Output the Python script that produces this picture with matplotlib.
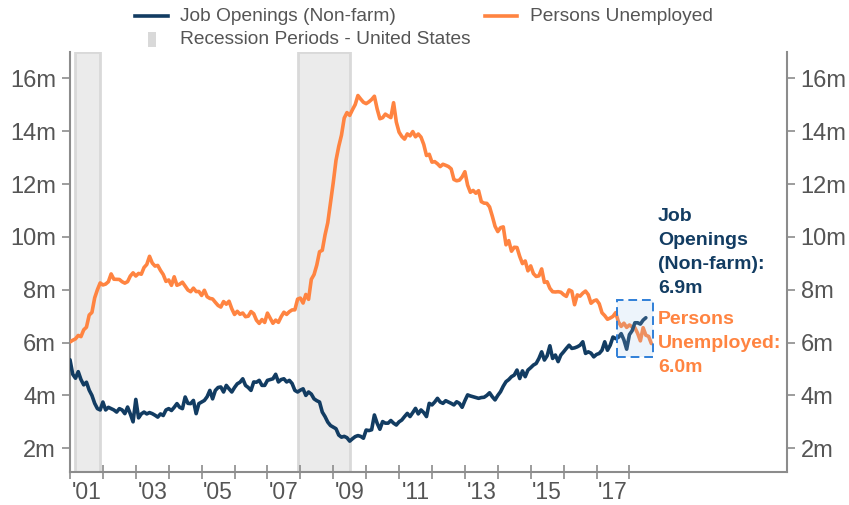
import numpy as np
import matplotlib
matplotlib.use("Agg")
import matplotlib.pyplot as plt
from matplotlib.lines import Line2D
from matplotlib.patches import Rectangle

# ---------------- data (millions, monthly, starting Jan 2001) ----------------
START_YEAR = 2001

job_openings = [
    5.35, 4.8, 4.65, 4.9, 4.6, 4.4, 4.5, 4.2, 4.0, 3.7, 3.5, 3.45,        # 2001
    3.75, 3.45, 3.55, 3.5, 3.45, 3.37, 3.5, 3.45, 3.31, 3.56, 3.3, 3.0,    # 2002
    3.85, 3.15, 3.3, 3.37, 3.3, 3.35, 3.31, 3.25, 3.18, 3.3, 3.24, 3.45,   # 2003
    3.5, 3.43, 3.55, 3.69, 3.55, 3.5, 3.94, 3.7, 3.69, 3.81, 3.31, 3.69,   # 2004
    3.75, 3.81, 3.95, 4.19, 3.87, 4.19, 4.3, 4.32, 4.13, 4.38, 4.25, 4.13, # 2005
    4.3, 4.44, 4.5, 4.63, 4.38, 4.3, 4.19, 4.51, 4.5, 4.57, 4.38, 4.38,    # 2006
    4.57, 4.6, 4.63, 4.8, 4.51, 4.6, 4.63, 4.51, 4.57, 4.45, 4.19, 4.13,   # 2007
    4.2, 4.25, 4.0, 4.13, 4.05, 3.87, 3.8, 3.75, 3.37, 3.2, 2.99, 2.86,    # 2008
    2.8, 2.74, 2.5, 2.42, 2.45, 2.4, 2.27, 2.36, 2.44, 2.48, 2.45, 2.38,   # 2009
    2.69, 2.67, 2.7, 3.26, 2.95, 2.72, 3.01, 2.95, 2.95, 3.05, 2.95, 2.88, # 2010
    3.0, 3.07, 3.2, 3.32, 3.2, 3.35, 3.51, 3.3, 3.45, 3.35, 3.2, 3.7,      # 2011
    3.64, 3.75, 3.89, 3.75, 3.7, 3.8, 3.75, 3.7, 3.64, 3.76, 3.7, 3.55,    # 2012
    3.8, 4.02, 3.98, 3.95, 3.92, 3.89, 3.92, 3.93, 4.0, 4.1, 3.95, 3.83,   # 2013
    4.0, 4.14, 4.35, 4.52, 4.6, 4.71, 4.77, 4.96, 4.64, 4.93, 4.71, 4.96,  # 2014
    5.05, 5.15, 5.21, 5.4, 5.65, 5.34, 5.5, 5.88, 5.4, 5.53, 5.28, 5.53,   # 2015
    5.65, 5.78, 5.9, 5.78, 5.8, 5.84, 5.9, 6.03, 5.59, 5.65, 5.6, 5.46,    # 2016
    5.55, 5.59, 5.71, 6.03, 5.71, 5.9, 6.21, 6.15, 6.2, 6.34, 6.1, 5.75,   # 2017
    6.3, 6.45, 6.75, 6.75, 6.7, 6.85, 6.94,                                # 2018
]

persons_unemployed = [
    6.023, 6.089, 6.141, 6.271, 6.226, 6.484, 6.583, 7.042, 7.142, 7.694, 8.003, 8.258,        # 2001
    8.182, 8.215, 8.304, 8.599, 8.399, 8.393, 8.390, 8.304, 8.251, 8.307, 8.520, 8.640,        # 2002
    8.520, 8.618, 8.588, 8.842, 8.957, 9.266, 9.011, 8.896, 8.921, 8.732, 8.576, 8.317,        # 2003
    8.370, 8.167, 8.491, 8.170, 8.212, 8.286, 8.136, 7.990, 7.927, 8.061, 7.932, 7.934,        # 2004
    7.784, 7.980, 7.737, 7.672, 7.651, 7.524, 7.406, 7.345, 7.553, 7.453, 7.566, 7.279,        # 2005
    7.064, 7.184, 7.072, 7.120, 6.980, 7.001, 7.175, 7.091, 6.847, 6.727, 6.872, 6.762,        # 2006
    7.116, 6.927, 6.731, 6.850, 6.766, 6.979, 7.149, 7.067, 7.170, 7.237, 7.240, 7.645,        # 2007
    7.685, 7.497, 7.822, 7.637, 8.395, 8.575, 8.937, 9.438, 9.494, 10.074, 10.538, 11.286,     # 2008
    12.058, 12.898, 13.426, 13.853, 14.499, 14.707, 14.601, 14.814, 15.009, 15.352, 15.219, 15.098,  # 2009
    15.046, 15.113, 15.202, 15.325, 14.849, 14.474, 14.512, 14.648, 14.579, 14.516, 15.081, 14.348,  # 2010
    13.966, 13.804, 13.702, 13.900, 13.826, 13.988, 13.790, 13.895, 13.777, 13.500, 13.082, 13.128,  # 2011
    12.830, 12.850, 12.770, 12.663, 12.750, 12.711, 12.665, 12.576, 12.175, 12.125, 12.148, 12.272,  # 2012
    12.468, 11.960, 11.689, 11.760, 11.654, 11.751, 11.335, 11.279, 11.270, 11.136, 10.787, 10.404,  # 2013
    10.202, 10.349, 10.380, 9.702, 9.859, 9.460, 9.608, 9.599, 9.262, 8.990, 9.090, 8.717,     # 2014
    8.903, 8.610, 8.504, 8.526, 8.789, 8.280, 8.304, 8.053, 7.925, 7.916, 7.927, 7.907,        # 2015
    7.815, 7.749, 7.994, 7.940, 7.433, 7.805, 7.758, 7.871, 7.950, 7.813, 7.489, 7.578,        # 2016
    7.615, 7.468, 7.128, 7.021, 6.882, 6.930, 6.992, 7.134, 6.785, 6.613, 6.734, 6.575,        # 2017
    6.667, 6.592, 6.563, 6.350, 6.065, 6.564, 6.280, 6.234, 5.964,                             # 2018
]

# recessions: (first month, last month) as (year, month)
recessions = [((2001, 3), (2001, 11)), ((2007, 12), (2009, 6))]

y_ticks = [2, 4, 6, 8, 10, 12, 14, 16]
y_tick_labels = ["2m", "4m", "6m", "8m", "10m", "12m", "14m", "16m"]
x_major_years = list(range(2001, 2019))
x_label_years = list(range(2001, 2018, 2))
x_tick_labels = ["'01", "'03", "'05", "'07", "'09", "'11", "'13", "'15", "'17"]

legend_labels = ["Job Openings (Non-farm)", "Persons Unemployed",
                 "Recession Periods - United States"]
jo_note = "Job\nOpenings\n(Non-farm):\n6.9m"
pu_note = "Persons\nUnemployed:\n6.0m"

# ---------------- style ----------------
JO_COLOR = "#123c62"
PU_COLOR = "#ff8441"
AXIS_COLOR = "#8c8c8c"
TEXT_COLOR = "#555555"
REC_FACE = "#ebebeb"
REC_EDGE = "#d9d9d9"

plt.rcParams["font.family"] = ["Liberation Sans", "DejaVu Sans"]

W, H = 849, 505
fig = plt.figure(figsize=(W / 100, H / 100), dpi=100)

left_px, right_px, top_px, bottom_px = 70, 786.7, 52, 472.3
ax = fig.add_axes([left_px / W, 1 - bottom_px / H,
                   (right_px - left_px) / W, (bottom_px - top_px) / H])

def month_pos(n):
    return START_YEAR + np.arange(n) / 12.0

x_jo = month_pos(len(job_openings))
x_pu = month_pos(len(persons_unemployed))

# recession shading
for (y0, m0), (y1, m1) in recessions:
    a = y0 + (m0 - 1) / 12.0
    b = y1 + m1 / 12.0
    ax.axvspan(a, b, facecolor=REC_FACE, edgecolor=REC_EDGE, linewidth=2.0, zorder=1)

ax.plot(x_pu, persons_unemployed, color=PU_COLOR, lw=2.6, zorder=3,
        solid_joinstyle="round", solid_capstyle="round")
ax.plot(x_jo, job_openings, color=JO_COLOR, lw=2.6, zorder=3,
        solid_joinstyle="round", solid_capstyle="round")

# highlight box around latest year
box_x0, box_x1 = 2017.62, 2018.73
box_y0, box_y1 = 5.47, 7.61
ax.add_patch(Rectangle((box_x0, box_y0), box_x1 - box_x0, box_y1 - box_y0,
                       facecolor="#9fc5ee", alpha=0.18, edgecolor="none", zorder=4))
ax.add_patch(Rectangle((box_x0, box_y0), box_x1 - box_x0, box_y1 - box_y0,
                       facecolor="none", edgecolor="#2f7fd8", lw=1.4,
                       linestyle=(0, (4.5, 2.5)), zorder=5))

# annotations
note_x = x_pu[-1] + 0.2
ax.text(note_x, persons_unemployed[-1], pu_note, color=PU_COLOR, fontsize=14,
        fontweight="bold", va="center", ha="left", linespacing=1.55, zorder=6)
ax.text(note_x, 9.4, jo_note, color=JO_COLOR, fontsize=14,
        fontweight="bold", va="center", ha="left", linespacing=1.55, zorder=6)

# axes limits and ticks
ax.set_xlim(2001.0, 2022.78)
ax.set_ylim(1.09, 17.0)

ax.set_yticks(y_ticks)
ax.set_yticklabels(y_tick_labels)
ax.yaxis.set_ticks_position("both")
ax.tick_params(axis="y", which="major", direction="out", length=6, width=1.2,
               color=AXIS_COLOR, labelsize=17, labelcolor=TEXT_COLOR,
               labelleft=True, labelright=True, pad=4)

ax.set_xticks(x_major_years)
ax.set_xticklabels([])
ax.set_xticks([y + 0.5 for y in x_label_years], minor=True)
ax.set_xticklabels(x_tick_labels, minor=True)
ax.tick_params(axis="x", which="major", direction="inout", length=10, width=1.2,
               color=AXIS_COLOR)
ax.tick_params(axis="x", which="minor", length=0, labelsize=16.5,
               labelcolor=TEXT_COLOR, pad=6.5)

for side in ["left", "right", "bottom"]:
    ax.spines[side].set_color(AXIS_COLOR)
    ax.spines[side].set_linewidth(1.5)
ax.spines["top"].set_visible(False)

# legend drawn in figure pixel space
def fx(px):
    return px / W

def fy(py):
    return 1 - py / H

fig.add_artist(Line2D([fx(135), fx(168)], [fy(16), fy(16)], color=JO_COLOR, lw=2.6,
                      transform=fig.transFigure))
fig.text(fx(180), fy(16.5), legend_labels[0], color=TEXT_COLOR, fontsize=13.8,
         va="center", ha="left")
fig.add_artist(Line2D([fx(485), fx(517)], [fy(16), fy(16)], color=PU_COLOR, lw=2.6,
                      transform=fig.transFigure))
fig.text(fx(530), fy(16.5), legend_labels[1], color=TEXT_COLOR, fontsize=13.8,
         va="center", ha="left")
fig.add_artist(Rectangle((fx(148), fy(47)), 8 / W, 15 / H, facecolor="#d9d9d9",
                         edgecolor="none", transform=fig.transFigure))
fig.text(fx(180), fy(40), legend_labels[2], color=TEXT_COLOR, fontsize=13.8,
         va="center", ha="left")

fig.savefig("out.png", dpi=100)
